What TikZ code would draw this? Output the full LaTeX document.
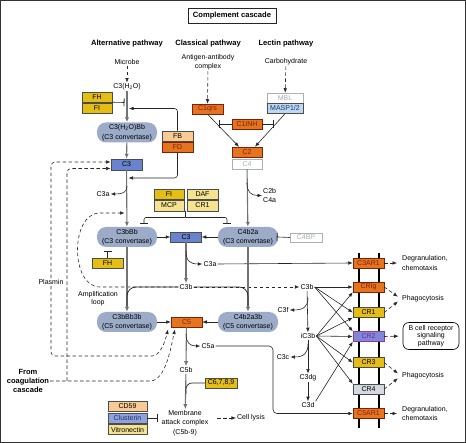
\documentclass[tikz,border=0pt]{standalone}
\usepackage{fontspec}
\setmainfont{Liberation Sans}
\usetikzlibrary{arrows.meta}
\newcommand\diagfont{\fontsize{7}{9.4}\selectfont}
\newcommand\headfont{\fontsize{7.6}{9}\selectfont\bfseries}
\definecolor{convgray}{HTML}{9BABC8}
\definecolor{cblue}{HTML}{6A83CF}
\definecolor{corange}{HTML}{E5741F}
\definecolor{ctextred}{HTML}{80200A}
\definecolor{cgold}{HTML}{E4BE14}
\definecolor{cpale}{HTML}{F5E38F}
\definecolor{cpeach}{HTML}{F7CB92}
\definecolor{cskyb}{HTML}{BCD9EF}
\definecolor{cnavy}{HTML}{1F2F6E}
\definecolor{cpurp}{HTML}{7F86DB}
\definecolor{cpurpline}{HTML}{8E3C9C}
\definecolor{cgraybox}{HTML}{D5D9E1}
\definecolor{cclus}{HTML}{8FA3DD}
\definecolor{cfaint}{HTML}{A9B0B8}
\tikzset{
  gene/.style={draw=black!70, line width=0.5pt, minimum width=31pt, minimum height=10pt, inner sep=0pt, font=\diagfont},
  orbox/.style={gene, fill=corange, text=ctextred, draw=ctextred},
  goldbox/.style={gene, fill=cgold},
  palebox/.style={gene, fill=cpale},
  bluebox/.style={gene, fill=cblue},
  faintbox/.style={gene, fill=white, draw=cfaint, text=cfaint},
  conv/.style={fill=convgray, rounded corners=9pt, minimum width=60pt, minimum height=20pt, inner sep=0pt, align=center, font=\diagfont},
  lbl/.style={inner sep=1pt, align=center, font=\diagfont},
  arr/.style={draw=black!85, line width=0.6pt, -{Latex[length=4.5pt,width=3.6pt]}},
  garr/.style={draw=black!55, line width=1.1pt, -{Latex[length=5pt,width=4.2pt]}},
  darr/.style={arr, dash pattern=on 3.5pt off 2.5pt},
  inh/.style={draw=black!85, line width=0.6pt, -{Bar[width=8pt,line width=0.8pt]}},
  joinline/.style={draw=black!85, line width=0.7pt}
}
\begin{document}
\begin{tikzpicture}[x=1pt,y=-1pt]
  \useasboundingbox (0,0) rectangle (466,443);
  \draw[line width=1.4pt, black!80] (0.7,0.7) rectangle (465.3,442.3);

  \node[draw=black!85, line width=0.9pt, minimum width=88pt, minimum height=15pt, inner sep=0pt, font=\headfont] (title) at (232,15.5) {Complement cascade};
  \node[font=\headfont] (altpw) at (127,44) {Alternative pathway};
  \node[font=\headfont] (clapw) at (208,44) {Classical pathway};
  \node[font=\headfont] (lecpw) at (286,44) {Lectin pathway};

  % alternative pathway
  \node[lbl] (microbe) at (127,62) {Microbe};
  \node[lbl] (c3h2o) at (127,87) {C3(H\textsubscript{2}O)};
  \node[goldbox, minimum width=30pt] (fhA) at (97,97) {FH};
  \node[goldbox, minimum width=30pt] (fiA) at (97,108) {FI};
  \node[conv] (c3h2obb) at (127,132.5) {C3(H\textsubscript{2}O)Bb\\(C3 convertase)};
  \node[gene, fill=cpeach] (fb) at (177.5,136) {FB};
  \node[orbox] (fd) at (177.5,147.5) {FD};
  \node[bluebox, minimum height=11pt] (c3L) at (126.5,164.5) {C3};
  \node[lbl] (c3aL) at (103,194) {C3a};

  % classical and lectin pathways
  \node[lbl] (antigen) at (208,62) {Antigen-antibody\\complex};
  \node[lbl] (carbo) at (286,62) {Carbohydrate};
  \node[orbox] (c1qrs) at (207.5,109) {C1qrs};
  \node[faintbox, minimum width=36pt] (mbl) at (285,98) {MBL};
  \node[gene, fill=cskyb, text=cnavy, minimum width=36pt] (masp) at (285,108.5) {MASP1/2};
  \node[orbox, minimum width=30pt] (c1inh) at (247,124) {C1INH};
  \node[orbox, minimum width=30pt] (c2) at (247,152) {C2};
  \node[faintbox, minimum width=30pt] (c4) at (247,164) {C4};
  \node[lbl, align=left, anchor=west] (c2b) at (262,195.5) {C2b\\C4a};

  \node[goldbox, minimum width=30pt] (fiB) at (169,194) {FI};
  \node[palebox] (daf) at (202.5,194) {DAF};
  \node[palebox, minimum width=30pt, minimum height=11pt] (mcp) at (169,205.5) {MCP};
  \node[palebox, minimum height=11pt] (cr1B) at (202.5,205.5) {CR1};

  \node[conv] (c3bbb) at (127,237) {C3bBb\\(C3 convertase)};
  \node[bluebox] (c3C) at (186,237) {C3};
  \node[conv] (c4b2a) at (248,237) {C4b2a\\(C3 convertase)};
  \node[faintbox, minimum width=32pt, minimum height=9pt] (c4bp) at (306,237.5) {C4BP};
  \node[goldbox] (fhB) at (107.5,263) {FH};
  \node[lbl] (c3aC) at (210,264) {C3a};
  \node[lbl] (c3bC) at (186,287) {C3b};
  \node[lbl, font=\fontsize{7}{8.6}\selectfont] (amp) at (98,298.5) {Amplification\\loop};
  \node[lbl, fill=white] (plasmin) at (51,282) {Plasmin};

  \node[conv] (c3bbb3b) at (127,322) {C3bBb3b\\(C5 convertase)};
  \node[orbox] (c5) at (186.5,322) {C5};
  \node[conv] (c4b2a3b) at (248,322) {C4b2a3b\\(C5 convertase)};
  \node[lbl] (c5a) at (208,346) {C5a};
  \node[lbl] (c5b) at (186,370) {C5b};
  \node[goldbox, minimum width=32pt] (c6789) at (221,383) {C6,7,8,9};
  \node[lbl] (mac) at (185,423) {Membrane\\attack complex\\(C5b-9)};
  \node[gene, fill=cpeach, minimum width=39pt] (cd59) at (127.5,406) {CD59};
  \node[gene, fill=cclus, text=cnavy, minimum width=39pt] (clus) at (127.5,418) {Clusterin};
  \node[gene, fill=cpale, minimum width=39pt] (vitro) at (127.5,429.5) {Vitronectin};
  \node[lbl] (lysis) at (251,418) {Cell lysis};
  \node[lbl, font=\fontsize{7.5}{9}\selectfont\bfseries] (coag) at (28,381) {From\\coagulation\\cascade};

  % C3b fragments
  \node[lbl] (c3bR) at (307,287) {C3b};
  \node[lbl] (c3f) at (283,310) {C3f};
  \node[lbl] (ic3b) at (308,336) {iC3b};
  \node[lbl] (c3c) at (283,357) {C3c};
  \node[lbl] (c3dg) at (308,378) {C3dg};
  \node[lbl] (c3d) at (308,405) {C3d};

  % membrane and receptors
  \draw[line width=1.6pt] (359,253) -- (359,428);
  \draw[line width=1.6pt] (379,253) -- (379,428);
  \node[orbox] (c3ar1) at (368.5,263) {C3AR1};
  \node[orbox] (crig) at (368.5,287) {CRIg};
  \node[goldbox] (cr1) at (368.5,312.5) {CR1};
  \node[gene, fill=cpurp, draw=cpurpline, text=cpurpline!80!black] (cr2) at (368.5,336.5) {CR2};
  \node[goldbox] (cr3) at (368.5,362.5) {CR3};
  \node[gene, fill=cgraybox] (cr4) at (368.5,389) {CR4};
  \node[orbox] (c5ar1) at (368.5,413.5) {C5AR1};

  \node[lbl, align=left, anchor=west] (degrA) at (401,263) {Degranulation,\\chemotaxis};
  \node[lbl, anchor=west] (phagoA) at (401,299) {Phagocytosis};
  \node[draw, rounded corners=6pt, line width=0.6pt, minimum width=56pt, minimum height=27pt, inner sep=0pt, align=center, font=\fontsize{7}{7.8}\selectfont] (bcr) at (431,336) {B cell receptor\\signaling\\pathway};
  \node[lbl, anchor=west] (phagoB) at (401,376) {Phagocytosis};
  \node[lbl, align=left, anchor=west] (degrB) at (401,413.5) {Degranulation,\\chemotaxis};

  % free ends
  \coordinate (c3h2obar) at (124.5,102.5);
  \coordinate (fbin) at (129,108.5);
  \coordinate (c1inhL) at (219,124);
  \coordinate (c1inhR) at (274,124);
  \coordinate (c2bfork) at (247,183);
  \coordinate (fdin) at (128.5,178);
  \coordinate (c3aLfork) at (127,186);
  \coordinate (grpstem) at (185.5,211);
  \coordinate (grpjoin) at (185.5,217.5);
  \coordinate (grpL) at (144,223.5);
  \coordinate (grpR) at (227,223.5);
  \coordinate (fhBbar) at (107.5,251);
  \coordinate (c3aCfork) at (186,251);
  \coordinate (c3bjoinL) at (127,306);
  \coordinate (c3bjoinR) at (248,306);
  \coordinate (ampin) at (124.5,213);
  \coordinate (c3plas) at (110.5,162);
  \coordinate (c3coag) at (110.5,168.5);
  \coordinate (c5plas) at (168,329.5);
  \coordinate (c5coag) at (175,329.5);
  \coordinate (coagsplit) at (67,381);
  \coordinate (c5afork) at (186,334);
  \coordinate (c5aturn) at (273,346);
  \coordinate (c6789join) at (186,394);
  \coordinate (clusbar) at (157.5,418);
  \coordinate (macout) at (217,418);
  \coordinate (c3ffork) at (308,298);
  \coordinate (c3cfork) at (308,344);

  \draw[darr] (microbe) -- (c3h2o);
  \draw[darr] (antigen) -- (c1qrs);
  \draw[darr] (carbo) -- (mbl);
  \draw[garr] (c3h2o) -- (c3h2obb);
  \draw[inh] (fhA.south east) -- (c3h2obar);
  \draw[arr, rounded corners=3pt] (fb.north) |- (fbin);
  \draw[arr] (c1qrs.south) -- ([xshift=-8pt]c2.north);
  \draw[arr] (masp.south) -- ([xshift=8pt]c2.north);
  \draw[inh] (c1inh.west) -- (c1inhL);
  \draw[inh] (c1inh.east) -- (c1inhR);
  \draw[garr] (c4) -- (c4b2a);
  \draw[arr] (c2bfork) .. controls (247,192) and (251,195.5) .. (c2b.west);
  \draw[garr] (c3h2obb) -- (c3L);
  \draw[arr, rounded corners=3pt] (fd.south) |- (fdin);
  \draw[garr] (c3L) -- (c3bbb);
  \draw[arr] (c3aLfork) .. controls (127,193) and (122,194) .. (c3aL.east);
  \draw[joinline] (grpstem) -- (grpjoin);
  \draw[inh, rounded corners=2pt] (grpjoin) -| (grpL);
  \draw[inh, rounded corners=2pt] (grpjoin) -| (grpR);
  \draw[inh] (fhB.north) -- (fhBbar);
  \draw[arr] (c3bbb) -- (c3C);
  \draw[arr] (c4b2a) -- (c3C);
  \draw[inh, shorten >=-1.5pt] (c4bp.west) -- (c4b2a.east);
  \draw[garr] (c3C) -- (c3bC);
  \draw[arr] (c3aCfork) .. controls (186,261) and (190,264) .. (c3aC.west);
  \draw[arr] (c3aC.east) -- (c3ar1.west);
  \draw[darr] (c3bC.west) -- (100,287) .. controls (70,287) and (70,213) .. (100,213) -- (ampin);
  \draw[darr] (c3bC.east) -- (c3bR.west);
  \draw[garr] (c3bbb) -- (c3bbb3b);
  \draw[garr] (c4b2a) -- (c4b2a3b);
  \draw[joinline, rounded corners=9pt] (c3bC.west) -| (c3bjoinL);
  \draw[joinline, rounded corners=9pt] (c3bC.east) -| (c3bjoinR);
  \draw[darr, rounded corners=4pt] (plasmin.north) |- (c3plas);
  \draw[darr, rounded corners=4pt] (plasmin.south) |- (148,356) .. controls (160,356) and (165,342) .. (c5plas);
  \draw[darr] (coag.east) -- (150,381) .. controls (166,381) and (171,346) .. (c5coag);
  \draw[darr, rounded corners=4pt] (coagsplit) |- (c3coag);
  \draw[arr] (c3bbb3b) -- (c5);
  \draw[arr] (c4b2a3b) -- (c5);
  \draw[garr] (c5) -- (c5b);
  \draw[arr] (c5afork) .. controls (186,343) and (190,346) .. (c5a.west);
  \draw[arr, rounded corners=4pt] (c5a.east) -- (c5aturn) |- (c5ar1.west);
  \draw[garr] (c5b) -- (mac);
  \draw[joinline, rounded corners=6pt] (c6789.west) -| (c6789join);
  \draw[inh] (clus.east) -- (clusbar);
  \draw[darr] (macout) -- (lysis.west);

  \draw[arr] (c3bR) -- (ic3b);
  \draw[arr] (c3ffork) .. controls (308,306) and (304,310) .. (c3f.east);
  \draw[arr] (ic3b) -- (c3dg);
  \draw[arr] (c3cfork) .. controls (308,353) and (304,357) .. (c3c.east);
  \draw[arr] (c3dg) -- (c3d);
  \draw[arr] (c3bR.east) -- (crig.west);
  \draw[arr] (c3bR.east) -- (cr1.west);
  \draw[arr] (c3bR.east) -- (cr2.north west);
  \draw[arr] (ic3b.east) -- (crig.south west);
  \draw[arr] (ic3b.east) -- (cr1.south west);
  \draw[arr] (ic3b.east) -- (cr2.west);
  \draw[arr] (ic3b.east) -- (cr3.west);
  \draw[arr] (ic3b.east) -- (cr4.north west);
  \draw[arr] (c3d.north east) -- (cr2.south west);

  \draw[darr, shorten >=4pt] (c3ar1.east) -- (degrA.west);
  \draw[darr, shorten >=4pt] (crig.east) -- (phagoA.west);
  \draw[darr, shorten >=4pt] (cr1.east) -- (phagoA.west);
  \draw[darr, shorten >=4pt] (cr2.east) -- (bcr.west);
  \draw[darr, shorten >=4pt] (cr3.east) -- (phagoB.west);
  \draw[darr, shorten >=4pt] (cr4.east) -- (phagoB.west);
  \draw[darr, shorten >=4pt] (c5ar1.east) -- (degrB.west);
\end{tikzpicture}
\end{document}
